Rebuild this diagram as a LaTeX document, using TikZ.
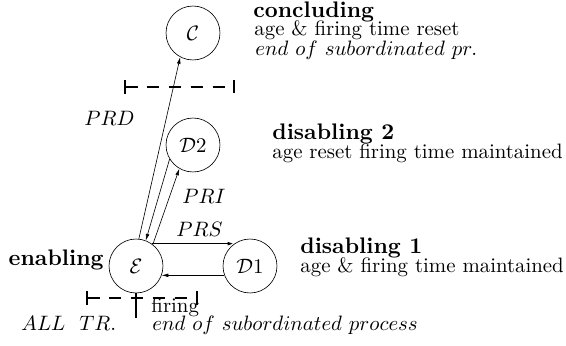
\documentclass[tikz,border=0pt]{standalone}
\usepackage{amsmath,amssymb}
\usepackage{tikz}
\usetikzlibrary{arrows.meta,positioning,calc}

\tikzset{
  state/.style={draw,circle,minimum size=25.9pt,inner sep=0pt,line width=0.3pt},
  trans/.style={-{Latex[length=3.2pt,width=1.8pt]},line width=0.3pt},
  cutbar/.style={dash pattern=on 6pt off 4.5pt,line width=0.9pt},
  cuttick/.style={line width=0.9pt},
  lbl/.style={anchor=base west,inner sep=0pt},
  head/.style={lbl,font=\fontsize{10.8}{12}\selectfont\bfseries}
}

\begin{document}
\begin{tikzpicture}[x=0.48pt,y=-0.48pt]
    \useasboundingbox (0,0) rectangle (566,345);
    % states
    \node[state] (C) at (193,33) {$\mathcal{C}$};
    \node[state] (D2) at (193,145) {$\mathcal{D}2$};
    \node[state] (E) at (136,266) {$\mathcal{E}$};
    \node[state] (D1) at (250,266) {$\mathcal{D}1$};

    % transitions
    \draw[trans] (E.84) -- (C.242);
    \draw[trans] (D2.211) -- (E.69);
    \draw[trans] (E.52) -- (D2.240);
    \draw[trans,line width=0.8pt] (E.55) -- (D1.125);
    \draw[trans] (D1.200) -- (E.-20);
    \coordinate (cutend) at (136,318);
    \draw[line width=1.1pt] (E.south) -- (cutend);

    % cut bars
    \draw[cutbar] (125,87) -- (234,87);
    \draw[cuttick] (125,80) -- (125,94);
    \draw[line width=0.6pt] (234,80) -- (234,93);
    \draw[cutbar] (87,298) -- (197,298);
    \foreach \x in {87,197}
        \draw[cuttick] (\x,291) -- (\x,305);

    % transition labels
    \node[lbl] (prd) at (84,125) {$PRD$};
    \node[lbl] (pri) at (182,203) {$PRI$};
    \node[lbl] (prs) at (176,236) {$PRS$};

    % state descriptions
    \node[head,anchor=base east] (enab) at (104,265) {enabling};
    \node[head] (conc) at (253,17) {concluding};
    \node[lbl] (conc2) at (254,36) {age \& firing time reset};
    \node[lbl] (conc3) at (255,55) {$end\ of\ subordinated\ pr.$};
    \node[head] (dis2) at (272,139) {disabling 2};
    \node[lbl] (dis2b) at (272,158) {age reset firing time maintained};
    \node[head] (dis1) at (300,253) {disabling 1};
    \node[lbl] (dis1b) at (300,272) {age \& firing time maintained};
    \node[lbl] (fire) at (151,312) {firing};
    \node[lbl] (alltr) at (21,330) {$ALL\ \ TR.$};
    \node[lbl] (endsub) at (152,330) {$end\ of\ subordinated\ process$};
\end{tikzpicture}
\end{document}
